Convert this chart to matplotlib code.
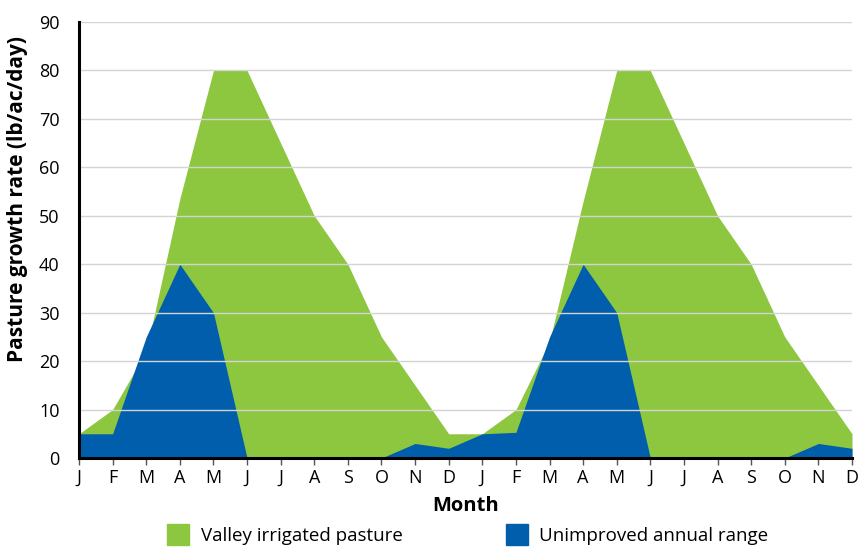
import numpy as np
import matplotlib
matplotlib.use('Agg')
import matplotlib.pyplot as plt
from matplotlib.patches import Patch

months = ['J', 'F', 'M', 'A', 'M', 'J', 'J', 'A', 'S', 'O', 'N', 'D'] * 2
valley = [5, 10, 22, 53.5, 80, 80, 65, 50, 40, 25, 15, 5,
          5, 10, 24, 53, 80, 80, 65, 50, 40, 25, 15, 5]
annual = [5, 5, 25, 40, 30, 0, 0, 0, 0, 0, 3, 2,
          5, 5.3, 25, 40, 30, 0, 0, 0, 0, 0, 3, 2]

green = '#8dc63f'
blue = '#005eac'

plt.rcParams['font.family'] = ['Open Sans', 'DejaVu Sans']

fig = plt.figure(figsize=(8.58, 5.55), dpi=100)
ax = fig.add_axes([79/858, 1-458/555, (852-79)/858, (458-22)/555])

x = np.arange(len(months))
ax.fill_between(x, 0, valley, color=green, lw=0, zorder=1)
ax.fill_between(x, 0, annual, color=blue, lw=0, zorder=2)

ax.set_xlim(0, len(months)-1)
ax.set_ylim(0, 90)
ax.set_yticks(range(0, 91, 10))
ax.set_xticks(x)
ax.set_xticklabels(months, fontsize=13)
ax.tick_params(axis='y', length=0, labelsize=13, pad=14)
ax.tick_params(axis='x', length=5, width=1, color='#555555', pad=3)
for yv in range(10, 91, 10):
    ax.axhline(yv, color='#d4d4d4', lw=1, zorder=3)

for s in ['top', 'right']:
    ax.spines[s].set_visible(False)
for s in ['left', 'bottom']:
    ax.spines[s].set_linewidth(2.2)
    ax.spines[s].set_color('black')
    ax.spines[s].set_zorder(5)

ax.set_xlabel('Month', fontsize=14.5, fontweight='bold')
ax.xaxis.set_label_coords(0.5, -0.087)
ax.set_ylabel('Pasture growth rate (lb/ac/day)', fontsize=15, fontweight='bold')
ax.yaxis.set_label_coords(-0.066, 0.594)

handles = [Patch(color=green, label='Valley irrigated pasture'),
           Patch(color=blue, label='Unimproved annual range')]
fig.legend(handles=handles, loc='lower center', bbox_to_anchor=(0.545, -0.012), ncol=2,
           frameon=False, fontsize=13.5, handlelength=1.2, handleheight=1.3,
           columnspacing=5.5, handletextpad=0.6)

fig.savefig('out.png', dpi=100)
